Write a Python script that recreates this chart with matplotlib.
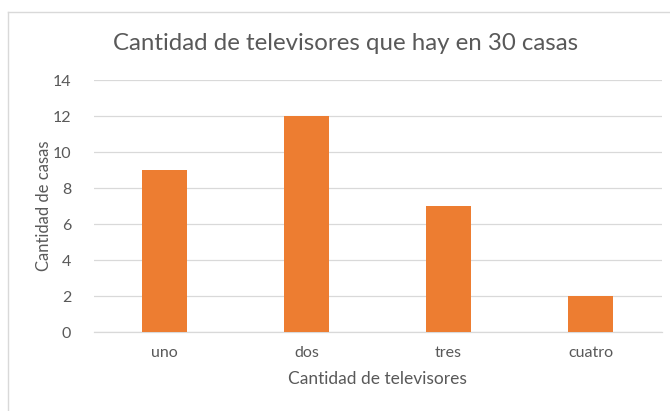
import matplotlib
matplotlib.use('Agg')
import matplotlib.pyplot as plt
from matplotlib.lines import Line2D

plt.rcParams['font.family'] = ['Lato', 'DejaVu Sans']

categories = ['uno', 'dos', 'tres', 'cuatro']
casas = [9, 12, 7, 2]
yticks = [0, 2, 4, 6, 8, 10, 12, 14]

TEXT = '#595959'
GRID = '#D9D9D9'
BAR = '#ED7D31'

fig = plt.figure(figsize=(6.7, 4.11), dpi=100)
ax = fig.add_axes([93.5 / 670, 79 / 411, 568 / 670, 252 / 411])

x = range(len(categories))
ax.bar(x, casas, width=0.32, color=BAR, zorder=3)

ax.set_xlim(-0.5, len(categories) - 0.5)
ax.set_ylim(0, 14)
ax.set_yticks(yticks)
ax.set_xticks(list(x))
ax.set_xticklabels(categories)
ax.yaxis.grid(True, color=GRID, lw=0.9, zorder=0)
ax.tick_params(length=0, colors=TEXT, labelsize=11.5)
ax.tick_params(axis='y', pad=16)
ax.tick_params(axis='x', pad=10)
for side in ['top', 'right', 'left']:
    ax.spines[side].set_visible(False)
ax.spines['bottom'].set_color(GRID)
ax.spines['bottom'].set_linewidth(0.9)

ax.set_ylabel('Cantidad de casas', color=TEXT, fontsize=12)
ax.yaxis.set_label_coords((52 - 93.5) / 568, 0.5)
ax.set_xlabel('Cantidad de televisores', color=TEXT, fontsize=12.5, labelpad=8)

fig.text(346 / 670, 1 - 44 / 411, 'Cantidad de televisores que hay en 30 casas',
         ha='center', va='center', color=TEXT, fontsize=17.3)

# chart area border
fig.add_artist(Line2D([8 / 670, 8 / 670], [0, 1 - 12 / 411], color=GRID, lw=1))
fig.add_artist(Line2D([8 / 670, 1], [1 - 12 / 411, 1 - 12 / 411], color=GRID, lw=1))

fig.savefig('out.png', dpi=100)
